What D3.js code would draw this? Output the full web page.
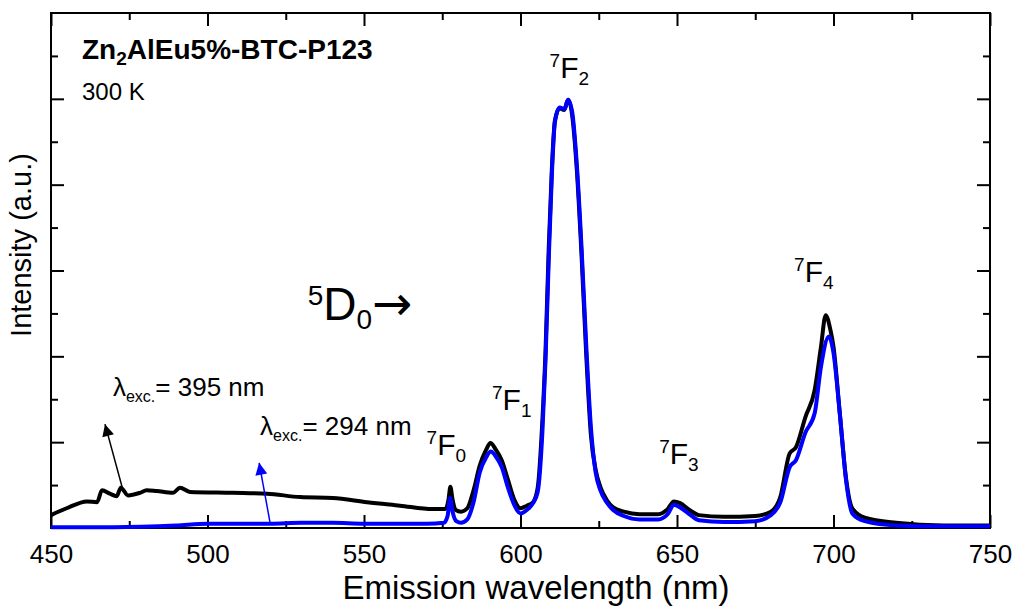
<!DOCTYPE html>
<meta charset="utf-8">
<head>
</head>
<body style="margin:0">
<style>
text {
  font-family: "Liberation Sans", Arial, sans-serif;
  fill: #000;
}
.tick line {
  stroke: #000;
  stroke-width: 2px;
}
.series {
  fill: none;
  stroke-width: 4px;
  stroke-linejoin: round;
}
</style>
<svg width="1015" height="608"></svg>
<script src="https://d3js.org/d3.v7.min.js"></script>
<script>
// emission spectra, intensity in units of the major y tick
var blackNm = [450, 455, 461.5, 464.7, 466.3, 468.8, 471, 472.3, 474.6, 478.4, 480.6, 483.8, 489, 491.2, 494.4, 508, 519, 529.6, 540, 551, 561.5, 572, 576, 577, 577.6, 578.3, 579.3, 581, 583, 585, 587, 589, 590.4, 592, 594, 596, 598, 600, 602, 604, 605.5, 607, 608, 609, 610, 611, 612.5, 614, 615.2, 616.5, 618, 619.5, 621, 622.5, 624, 625.5, 627.5, 629.6, 633, 638, 644, 647, 649, 651, 654, 657, 665, 675, 680, 683, 686, 688, 691, 694, 696, 697.5, 699, 700, 702, 704, 706, 710, 720, 735, 750];
var blackI = [0.15, 0.23, 0.31, 0.30, 0.44, 0.40, 0.37, 0.47, 0.38, 0.41, 0.44, 0.43, 0.41, 0.47, 0.42, 0.41, 0.40, 0.36, 0.35, 0.30, 0.26, 0.22, 0.22, 0.33, 0.48, 0.33, 0.21, 0.19, 0.23, 0.44, 0.73, 0.91, 0.99, 0.92, 0.79, 0.56, 0.33, 0.23, 0.26, 0.30, 0.47, 1.26, 2.07, 3.24, 4.17, 4.75, 4.89, 4.87, 4.99, 4.81, 4.17, 3.18, 2.02, 1.08, 0.68, 0.48, 0.33, 0.24, 0.19, 0.16, 0.16, 0.22, 0.31, 0.29, 0.21, 0.15, 0.13, 0.14, 0.19, 0.36, 0.87, 0.94, 1.29, 1.61, 2.11, 2.48, 2.31, 2.11, 1.34, 0.58, 0.23, 0.12, 0.06, 0.03, 0.03];

var blueNm = [450, 470, 490, 500, 520, 530, 540, 550, 570, 575.5, 576.7, 577.5, 578.3, 579.5, 581, 583, 585, 587, 589, 590.5, 592, 594, 596, 598, 600, 602, 604, 605.5, 607, 608, 609, 610, 611, 612.5, 614, 615.2, 616.5, 618, 619.5, 621, 622.5, 624, 625.5, 627.5, 629.6, 633, 638, 644, 647, 649, 651, 654, 657, 665, 675, 680, 683, 686, 688, 691, 694, 696, 698.5, 700, 702, 704, 706, 710, 720, 735, 750];
var blueI = [0.01, 0.01, 0.03, 0.05, 0.05, 0.06, 0.06, 0.05, 0.05, 0.06, 0.14, 0.35, 0.19, 0.08, 0.06, 0.10, 0.30, 0.65, 0.82, 0.89, 0.84, 0.71, 0.47, 0.27, 0.17, 0.21, 0.29, 0.42, 1.12, 1.96, 3.10, 4.10, 4.73, 4.90, 4.88, 4.99, 4.85, 4.23, 3.27, 2.13, 1.17, 0.65, 0.44, 0.30, 0.21, 0.14, 0.10, 0.10, 0.16, 0.27, 0.24, 0.16, 0.09, 0.07, 0.08, 0.15, 0.30, 0.71, 0.79, 1.11, 1.34, 1.88, 2.23, 2.04, 1.34, 0.56, 0.17, 0.08, 0.03, 0.02, 0.02];

var xTicks = [450, 500, 550, 600, 650, 700, 750];
var xMinor = [475, 525, 575, 625, 675, 725];
var yTicks = [1, 2, 3, 4, 5];
var yMinor = [0.5, 1.5, 2.5, 3.5, 4.5, 5.5];

var svg = d3.select("svg"),
  margin = {top: 13, right: 25, bottom: 80, left: 51},
  width = +svg.attr("width") - margin.left - margin.right,
  height = +svg.attr("height") - margin.top - margin.bottom;

var x = d3.scaleLinear().domain([450, 750]).range([0, width]);
var y = d3.scaleLinear().domain([0, 6]).range([height, 0]);

var g = svg.append("g").attr("transform", "translate(" + margin.left + "," + margin.top + ")");

// ticks inside the frame on all four sides
function ticks(axis, vals, len, tr, labels) {
  var a = g.append("g")
    .attr("transform", tr)
    .call(axis.tickValues(vals).tickSizeInner(-len).tickSizeOuter(0).tickPadding(17)
      .tickFormat(labels ? d3.format("d") : ""));
  a.select(".domain").remove();
  a.selectAll("text").style("font-size", "26px").style("font-family", null);
  return a;
}
ticks(d3.axisBottom(x), xTicks, 13, "translate(0," + height + ")", true);
ticks(d3.axisBottom(x), xMinor, 7, "translate(0," + height + ")");
ticks(d3.axisTop(x), xTicks, 13, null);
ticks(d3.axisTop(x), xMinor, 7, null);
ticks(d3.axisLeft(y), yTicks, 13, null);
ticks(d3.axisLeft(y), yMinor, 7, null);
ticks(d3.axisRight(y), yTicks, 13, "translate(" + width + ",0)");
ticks(d3.axisRight(y), yMinor, 7, "translate(" + width + ",0)");

g.append("rect")
  .attr("width", width)
  .attr("height", height)
  .attr("fill", "none")
  .attr("stroke", "#000")
  .attr("stroke-width", 2);

var line = d3.line()
  .x(function(d) { return x(d[0]); })
  .y(function(d) { return y(d[1]); })
  .curve(d3.curveMonotoneX);

g.append("path")
  .attr("class", "series")
  .attr("stroke", "#000")
  .attr("d", line(d3.zip(blackNm, blackI)));
g.append("path")
  .attr("class", "series")
  .attr("stroke", "#0000ff")
  .attr("d", line(d3.zip(blueNm, blueI)));

// axis titles
svg.append("text")
  .attr("x", 536)
  .attr("y", 599)
  .attr("text-anchor", "middle")
  .style("font-size", "33px")
  .text("Emission wavelength (nm)");
svg.append("text")
  .attr("transform", "translate(31,245) rotate(-90)")
  .attr("text-anchor", "middle")
  .style("font-size", "29px")
  .text("Intensity (a.u.)");

// rich labels: parts of [text, size, shift, font]
function label(nm, val, parts, color, weight) {
  var t = g.append("text")
    .attr("x", x(nm))
    .attr("y", y(val))
    .attr("fill", color || "#000")
    .style("font-weight", weight || "normal");
  var prev = 0;
  parts.forEach(function(p) {
    var s = t.append("tspan")
      .attr("dy", p[2] - prev)
      .style("font-size", p[1] + "px")
      .text(p[0]);
    if (p[3]) s.style("font-family", p[3]);
    prev = p[2];
  });
  return t;
}

label(459.9, 5.46, [["Zn", 28, 0], ["2", 19, 6], ["AlEu5%-BTC-P123", 28, 0]], "#000", "bold");
label(459.9, 4.99, [["300 K", 24, 0]]);

function level(nm, val, n) {
  label(nm, val, [["7", 19, -11], ["F", 30, 0], [n, 19, 7]]);
}
level(609.3, 5.24, "2");
level(590.9, 1.37, "1");
level(570.0, 0.85, "0");
level(644.3, 0.75, "3");
level(687.4, 2.87, "4");

label(532.0, 2.42, [["5", 28, -15], ["D", 46, 0], ["0", 28, 9], ["\u2192", 48, 0, "DejaVu Sans"]]);

label(469.8, 1.54, [["\u03bb", 26, 0], ["exc.", 16, 6], ["= 395 nm", 26, 0]]).attr("fill", "#000");
label(516.8, 1.08, [["\u03bb", 26, 0], ["exc.", 16, 6], ["= 294 nm", 26, 0]], "#0000ff");

// pointer arrows
var defs = svg.append("defs");
function arrow(id, color, from, to) {
  defs.append("marker")
    .attr("id", id)
    .attr("viewBox", "0 0 10 10")
    .attr("refX", 10)
    .attr("refY", 5)
    .attr("markerUnits", "userSpaceOnUse")
    .attr("markerWidth", 17)
    .attr("markerHeight", 12)
    .attr("orient", "auto")
    .append("path")
    .attr("d", "M0,0L10,5L0,10z")
    .attr("fill", color);
  g.append("line")
    .attr("x1", x(from[0]))
    .attr("y1", y(from[1]))
    .attr("x2", x(to[0]))
    .attr("y2", y(to[1]))
    .attr("stroke", color)
    .attr("stroke-width", 1.5)
    .attr("marker-end", "url(#" + id + ")");
}
arrow("ab", "#000", [473.0, 0.44], [467.25, 1.21]);
arrow("au", "#0000ff", [520.0, 0.06], [516.5, 0.76]);
</script>
</body>
